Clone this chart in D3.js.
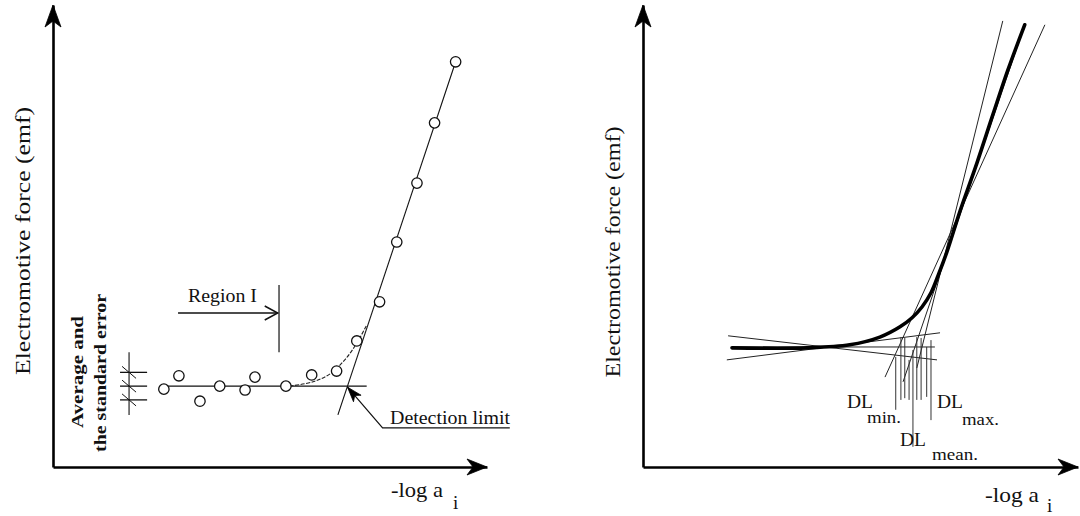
<!DOCTYPE html>
<html>
<head>
<meta charset="utf-8">
<script src="https://cdn.jsdelivr.net/npm/d3@7"></script>
<style>
  html, body { margin: 0; padding: 0; background: #fff; }
  text { font-family: "Liberation Serif", "Times New Roman", serif; fill: #111; }
</style>
</head>
<body>
<svg id="fig" width="1080" height="516"></svg>
<script>
// ---------- Left panel: calibration readings ----------
const leftLogA = [2.58, 2.93, 3.42, 3.88, 4.47, 4.70, 5.42, 6.02, 6.60, 7.07, 7.60, 8.00, 8.47, 8.88, 9.37];
const leftEmf  = [1.81, 2.12, 1.53, 1.88, 1.79, 2.09, 1.88, 2.14, 2.23, 2.93, 3.84, 5.23, 6.60, 8.00, 9.42];
const plateauEmf = 1.88;            // average of region I
const plateauSE = 0.32;             // standard error of that average
const plateauLogA = [2.58, 7.30];   // extent of the average line
const slopeLogA = [6.63, 9.37];     // linear (Nernstian) fit
const slopeEmf  = [1.21, 9.42];
const bendLogA = [5.51, 6.05, 6.44, 6.79, 7.07, 7.30];
const bendEmf  = [1.88, 1.98, 2.16, 2.49, 2.88, 3.30];

// ---------- Right panel: response curve and fitted lines ----------
const curveLogA = [2.07, 3.81, 4.81, 5.51, 5.98, 6.26, 6.49, 6.70, 6.88, 7.07, 7.37, 7.77, 8.14, 8.49, 8.88];
const curveEmf  = [2.77, 2.77, 2.84, 3.02, 3.26, 3.47, 3.72, 4.05, 4.49, 5.00, 5.93, 7.07, 8.19, 9.23, 10.28];
// low-activity fits: [start logA, start emf, end logA, end emf]
const flatFits = [
  [1.98, 3.05, 6.84, 2.49],
  [2.07, 2.79, 6.79, 2.79],
  [1.95, 2.49, 6.91, 3.12]
];
// high-activity fits (steepest, shallowest, middle)
const steepFits = [
  [6.37, 2.30, 8.37, 10.37],
  [5.63, 2.09, 9.35, 10.28],
  [6.05, 1.98, 8.88, 10.28]
];
// detection limits from every pair of fits
const dlLogA   = [5.88, 6.00, 6.09, 6.19, 6.28, 6.37, 6.47, 6.60, 6.70];
const dlTop    = [2.56, 3.02, 3.00, 2.49, 2.72, 3.02, 3.00, 2.79, 2.95];
const dlBottom = [1.33, 1.56, 1.60, 1.56, 0.47, 1.56, 1.56, 1.63, 1.09];

const svg = d3.select("#fig");

// scales (shared vertical, one horizontal per panel)
const yL = d3.scaleLinear().domain([0, 10.74]).range([467, 5]);
const xL = d3.scaleLinear().domain([0, 10.1]).range([53, 487]);
const xR = d3.scaleLinear().domain([0, 10.12]).range([643, 1078]);
const yR = yL;

const line = d3.line();

// filled "stealth" arrowhead at (tx,ty) pointing along angle a
function stealth(g, tx, ty, a, len, half, notch) {
  const c = Math.cos(a), s = Math.sin(a);
  const p = (u, v) => [tx - u * c - v * s, ty - u * s + v * c];
  const pts = [p(0, 0), p(len, -half), p(len - notch, 0), p(len, half)];
  g.append("path").attr("d", "M" + pts.map(q => q.join(",")).join("L") + "Z")
    .attr("fill", "#000").attr("stroke", "#000").attr("stroke-width", 0.8)
    .attr("stroke-linejoin", "miter");
}

function drawAxes(x, y, cls) {
  const g = svg.append("g").attr("class", cls);
  const ax = d3.axisBottom(x).tickValues([]).tickSizeOuter(0);
  const ay = d3.axisLeft(y).tickValues([]).tickSizeOuter(0);
  g.append("g").attr("transform", `translate(0,${y(0)})`).call(ax)
    .select(".domain").attr("stroke", "#000").attr("stroke-width", 2.6);
  g.append("g").attr("transform", `translate(${x(0)},0)`).call(ay)
    .select(".domain").attr("stroke", "#000").attr("stroke-width", 2.6);
  const d = x.domain(), r = y.domain();
  stealth(g, x(d[1]), y(0), 0, 20, 8, 6);
  stealth(g, x(0), y(r[1]), -Math.PI / 2, 22, 8, 6);
  return g;
}

// ===================== LEFT PANEL =====================
const gl = drawAxes(xL, yL, "left");

gl.append("text").attr("transform", `translate(30,${(yL(0) + 5) / 2 + 5}) rotate(-90)`)
  .attr("text-anchor", "middle").attr("font-size", 22)
  .attr("textLength", 268).attr("lengthAdjust", "spacingAndGlyphs")
  .text("Electromotive force (emf)");

gl.append("text").attr("x", 391).attr("y", 497).attr("font-size", 22)
  .attr("textLength", 52).attr("lengthAdjust", "spacingAndGlyphs").text("-log a");
gl.append("text").attr("x", 453).attr("y", 509).attr("font-size", 19).text("i");

// average line of region I
gl.append("path").attr("d", line([[xL(plateauLogA[0]), yL(plateauEmf)], [xL(plateauLogA[1]), yL(plateauEmf)]]))
  .attr("stroke", "#111").attr("stroke-width", 1.3).attr("fill", "none");

// linear fit
gl.append("path").attr("d", line([[xL(slopeLogA[0]), yL(slopeEmf[0])], [xL(slopeLogA[1]), yL(slopeEmf[1])]]))
  .attr("stroke", "#111").attr("stroke-width", 1.1).attr("fill", "none");

// curved transition
gl.append("path")
  .attr("d", d3.line().curve(d3.curveCatmullRom)(bendLogA.map((v, i) => [xL(v), yL(bendEmf[i])])))
  .attr("stroke", "#222").attr("stroke-width", 1.1).attr("fill", "none")
  .attr("stroke-dasharray", "4,1.5");

// readings
gl.selectAll("circle.pt").data(leftLogA).join("circle").attr("class", "pt")
  .attr("cx", d => xL(d)).attr("cy", (d, i) => yL(leftEmf[i])).attr("r", 5.2)
  .attr("fill", "#fff").attr("stroke", "#111").attr("stroke-width", 1.3);

// average and standard error marker
const seX = [1.56, 2.19], seAxis = 1.77;
[plateauEmf + plateauSE, plateauEmf, plateauEmf - plateauSE].forEach(v => {
  gl.append("path").attr("d", line([[xL(seX[0]), yL(v)], [xL(seX[1]), yL(v)]]))
    .attr("stroke", "#111").attr("stroke-width", 1.3);
  gl.append("path").attr("d", line([[xL(seAxis) - 7, yL(v) - 6], [xL(seAxis) + 7, yL(v) + 6]]))
    .attr("stroke", "#111").attr("stroke-width", 1);
});
gl.append("path").attr("d", line([[xL(seAxis), yL(2.67)], [xL(seAxis), yL(1.21)]]))
  .attr("stroke", "#111").attr("stroke-width", 1.1);

gl.append("text").attr("transform", `translate(83,372) rotate(-90)`)
  .attr("text-anchor", "middle").attr("font-size", 17).attr("font-weight", "bold")
  .attr("textLength", 112).attr("lengthAdjust", "spacingAndGlyphs").text("Average and");
gl.append("text").attr("transform", `translate(106,373) rotate(-90)`)
  .attr("text-anchor", "middle").attr("font-size", 17).attr("font-weight", "bold")
  .attr("textLength", 158).attr("lengthAdjust", "spacingAndGlyphs").text("the standard error");

// region I marker
const regY = 3.58, regX = [2.91, 5.23], regTick = 5.26;
gl.append("path").attr("d", line([[xL(regX[0]), yL(regY)], [xL(regX[1]), yL(regY)]]))
  .attr("stroke", "#111").attr("stroke-width", 1.3);
gl.append("path").attr("d", `M${xL(regX[1]) - 13},${yL(regY) - 7}L${xL(regX[1])},${yL(regY)}L${xL(regX[1]) - 13},${yL(regY) + 7}`)
  .attr("stroke", "#111").attr("stroke-width", 1.5).attr("fill", "none");
gl.append("path").attr("d", line([[xL(regTick), yL(4.23)], [xL(regTick), yL(2.67)]]))
  .attr("stroke", "#111").attr("stroke-width", 1.2);
gl.append("text").attr("x", 188).attr("y", 302).attr("font-size", 18)
  .attr("textLength", 69).attr("lengthAdjust", "spacingAndGlyphs").text("Region I");

// detection limit pointer
const dlX = slopeLogA[0] + (plateauEmf - slopeEmf[0]) * (slopeLogA[1] - slopeLogA[0]) / (slopeEmf[1] - slopeEmf[0]);
const tip = [xL(dlX), yL(plateauEmf) + 1];
const elbow = [xL(7.67), yL(0.91)];
gl.append("path").attr("d", line([tip, elbow, [xL(10.63), yL(0.91)]]))
  .attr("stroke", "#111").attr("stroke-width", 1.2).attr("fill", "none");
stealth(gl, tip[0], tip[1], Math.atan2(tip[1] - elbow[1], tip[0] - elbow[0]), 15, 5, 4);
gl.append("text").attr("x", 390).attr("y", 424).attr("font-size", 19.5)
  .attr("textLength", 120).attr("lengthAdjust", "spacingAndGlyphs").text("Detection limit");

// ===================== RIGHT PANEL =====================
const gr = drawAxes(xR, yR, "right");

gr.append("text").attr("transform", `translate(620,252) rotate(-90)`)
  .attr("text-anchor", "middle").attr("font-size", 21)
  .attr("textLength", 251).attr("lengthAdjust", "spacingAndGlyphs")
  .text("Electromotive force (emf)");
gr.append("text").attr("x", 985).attr("y", 502).attr("font-size", 22)
  .attr("textLength", 54).attr("lengthAdjust", "spacingAndGlyphs").text("-log a");
gr.append("text").attr("x", 1047).attr("y", 512).attr("font-size", 19).text("i");

flatFits.concat(steepFits).forEach(f => {
  gr.append("path").attr("d", line([[xR(f[0]), yR(f[1])], [xR(f[2]), yR(f[3])]]))
    .attr("stroke", "#222").attr("stroke-width", 1).attr("fill", "none");
});

gr.selectAll("path.dl").data(dlLogA).join("path").attr("class", "dl")
  .attr("d", (d, i) => line([[xR(d), yR(dlTop[i])], [xR(d), yR(dlBottom[i])]]))
  .attr("stroke", "#333").attr("stroke-width", 1);

gr.append("path")
  .attr("d", d3.line().curve(d3.curveCatmullRom)(curveLogA.map((v, i) => [xR(v), yR(curveEmf[i])])))
  .attr("stroke", "#000").attr("stroke-width", 3.6).attr("fill", "none").attr("stroke-linecap", "round");

function dlLabel(x, y, sub, subDx, subDy, w) {
  gr.append("text").attr("x", x).attr("y", y).attr("font-size", 19)
    .attr("textLength", 26).attr("lengthAdjust", "spacingAndGlyphs").text("DL");
  gr.append("text").attr("x", x + subDx).attr("y", y + subDy).attr("font-size", 17)
    .attr("textLength", w).attr("lengthAdjust", "spacingAndGlyphs").text(sub);
}
dlLabel(847, 408, "min.", 20, 15, 34);
dlLabel(937, 408, "max.", 25, 17, 37);
dlLabel(900, 446, "mean.", 32, 14, 46);
</script>
</body>
</html>
